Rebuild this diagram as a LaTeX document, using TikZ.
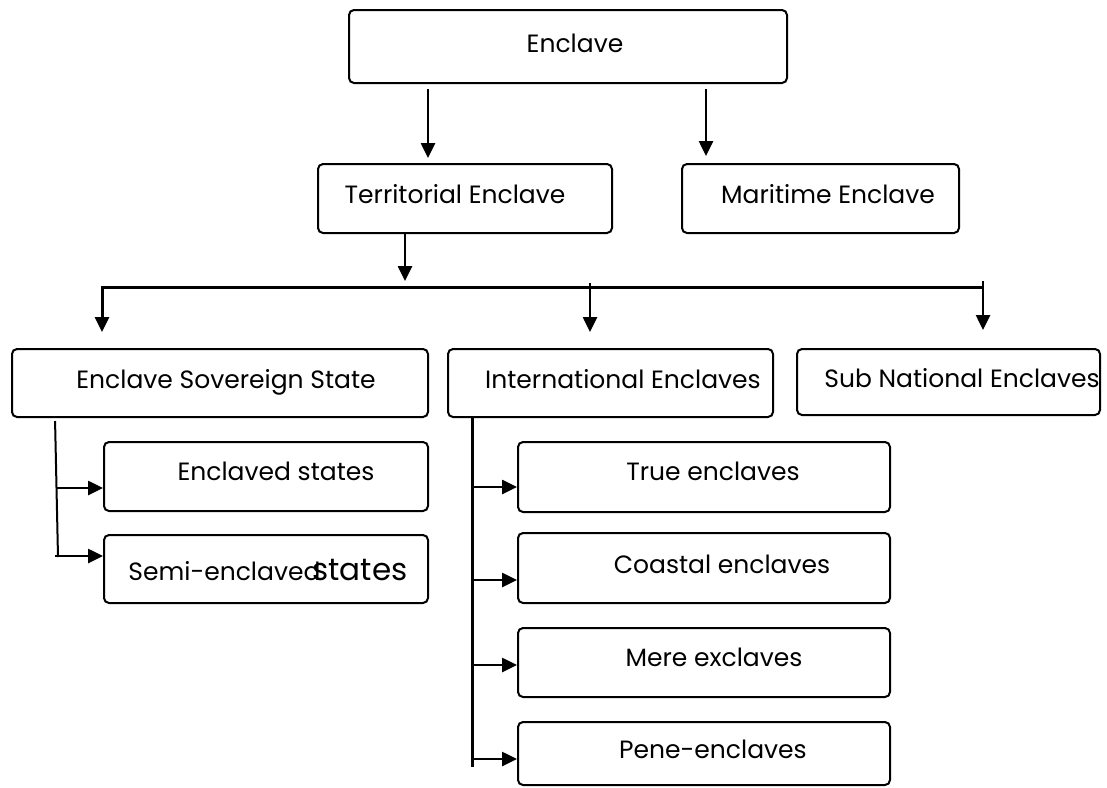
\documentclass[tikz,border=0pt]{standalone}
\usepackage{fontspec}
\setmainfont{Poppins}
\usetikzlibrary{arrows.meta}
\begin{document}
\begin{tikzpicture}[x=1pt,y=-1pt,
  box/.style={draw, line width=2pt, rounded corners=5pt, inner sep=0pt},
  lbl/.style={anchor=base, inner sep=0pt, font=\fontsize{25}{30}\selectfont},
  conn/.style={line width=2.6pt},
  arr/.style={conn, -{Triangle[length=15pt,width=14pt]}}]
\useasboundingbox[fill=white] (0,0) rectangle (1107,787);
% boxes
\node[box, minimum width=438pt, minimum height=73pt] (top)   at (568,46.5) {};
\node[box, minimum width=294pt, minimum height=69pt] (terr)  at (465,198.5) {};
\node[box, minimum width=277pt, minimum height=69pt] (mari)  at (820.5,198.5) {};
\node[box, minimum width=416pt, minimum height=68pt] (ess)   at (220,383) {};
\node[box, minimum width=325pt, minimum height=68pt] (intl)  at (610.5,383) {};
\node[box, minimum width=303pt, minimum height=66pt] (sub)   at (948.5,382) {};
\node[box, minimum width=324pt, minimum height=69pt] (encl)  at (266,476.5) {};
\node[box, minimum width=324pt, minimum height=68pt] (semi)  at (266,569) {};
\node[box, minimum width=372pt, minimum height=70pt] (true)  at (704,477) {};
\node[box, minimum width=372pt, minimum height=70pt] (coast) at (704,568) {};
\node[box, minimum width=372pt, minimum height=69pt] (mere)  at (704,662.5) {};
\node[box, minimum width=372pt, minimum height=63pt] (pene)  at (704,753.5) {};
% labels
\node[lbl] (ttop)   at (575,52)  {Enclave};
\node[lbl] (tterr)  at (455,203) {Territorial Enclave};
\node[lbl] (tmari)  at (828,203) {Maritime Enclave};
\node[lbl] (tess)   at (226,388) {Enclave Sovereign State};
\node[lbl] (tintl)  at (623,388) {International Enclaves};
\node[lbl] (tsub)   at (962,387) {Sub National Enclaves};
\node[lbl] (tencl)  at (276,480) {Enclaved states};
\node[lbl] (tsemi)  at (268,580) {Semi-enclaved\kern-8pt{\fontsize{31}{36}\selectfont states}};
\node[lbl] (ttrue)  at (713,480) {True enclaves};
\node[lbl] (tcoast) at (722,573) {Coastal enclaves};
\node[lbl] (tmere)  at (714,666) {Mere exclaves};
\node[lbl] (tpene)  at (713,758) {Pene-enclaves};
% coordinates for connector lines
\coordinate (xa) at (428,0);
\coordinate (xb) at (706,0);
\coordinate (xt) at (405,0);
\coordinate (busL) at (102,287);
\coordinate (busR) at (982,287);
\coordinate (xm) at (590,283);
\coordinate (xr) at (983,281);
\coordinate (ev) at (55,0);
\coordinate (e1) at (58,557);
\coordinate (e2) at (57,488);
\coordinate (e3) at (55,556);
\coordinate (iv) at (472,0);
\coordinate (ib) at (472,767);
\coordinate (i1) at (472,487);
\coordinate (i2) at (472,580);
\coordinate (i3) at (472,665);
\coordinate (i4) at (472,759);
% connectors
\draw[arr, shorten <=5pt, shorten >=5pt] (top.south -| xa) -- (terr.north -| xa);
\draw[arr, shorten <=5pt, shorten >=7pt] (top.south -| xb) -- (mari.north -| xb);
\draw[arr, shorten >=6pt] (terr.south -| xt) -- (xt |- busL);
\draw[arr, line width=3pt, shorten >=16pt] (busR) -- (busL) -- (ess.north -| busL);
\draw[arr, shorten >=16pt] (xm) -- (intl.north -| xm);
\draw[arr, shorten >=18pt] (xr) -- (sub.north -| xr);
\draw[conn, line width=2pt, shorten <=3pt] (ess.south -| ev) -- (e1);
\draw[arr] (e2) -- (encl.west |- e2);
\draw[arr] (e3) -- (semi.west |- e3);
\draw[conn, line width=3pt] (intl.south -| iv) -- (ib);
\draw[arr] (i1) -- (true.west |- i1);
\draw[arr] (i2) -- (coast.west |- i2);
\draw[arr] (i3) -- (mere.west |- i3);
\draw[arr] (i4) -- (pene.west |- i4);
\end{tikzpicture}
\end{document}
